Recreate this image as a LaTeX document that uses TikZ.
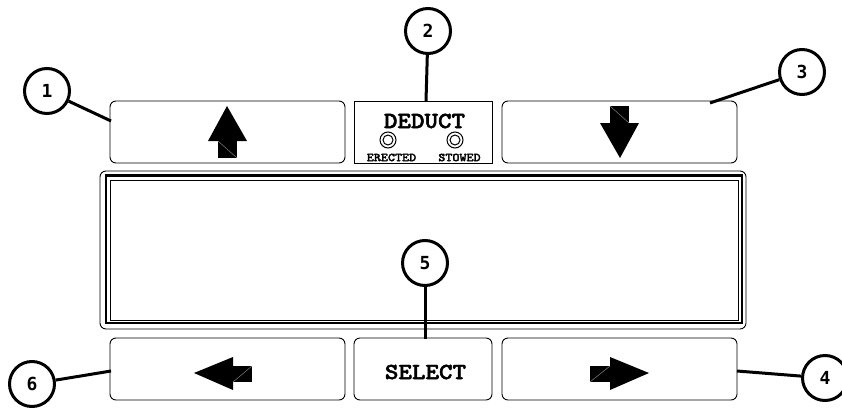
\documentclass[tikz,border=0pt]{standalone}
\usepackage{fontspec}
\usepackage{graphicx}
\newfontfamily\numfnt{DejaVu Sans Mono}
\newfontfamily\courbold{lmmonolt10-bold.otf}[FakeBold=2]
\newcommand{\wideT}[1]{\scalebox{1.12}[1]{#1}}
\begin{document}
\begin{tikzpicture}[x=1pt,y=-1pt,
  button/.style={draw, line width=0.9pt, rounded corners=6pt, inner sep=0pt,
    minimum width=235pt, minimum height=62pt},
  smallbutton/.style={button, minimum width=138pt},
  callout/.style={circle, draw, line width=3pt, minimum size=45pt, inner sep=0pt,
    font=\numfnt\bfseries\fontsize{18}{18}\selectfont},
  leader/.style={line width=3pt},
  arrowfill/.style={fill=black},
  seam/.style={draw=gray, line width=0.5pt},
  led/.style={circle, draw, line width=1pt, minimum size=16pt, inner sep=0pt},
  ledin/.style={circle, draw, line width=1pt, minimum size=10pt, inner sep=0pt},
  bigtxt/.style={font=\courbold\fontsize{23}{23}\selectfont, inner sep=0pt},
  smalltxt/.style={font=\courbold\fontsize{12}{12}\selectfont, inner sep=0pt},
  ]
\useasboundingbox (0,0) rectangle (842,409);
% top buttons
\node[button] (b1) at (227.5,132) {};
\node[draw, line width=0.9pt, inner sep=0pt, minimum width=138pt, minimum height=62pt] (ded) at (423,132) {};
\node[button] (b3) at (619.5,132) {};
% bottom buttons
\node[button] (b6) at (227.5,369) {};
\node[smallbutton] (sel) at (423,369) {};
\node[bigtxt] (seltext) at (425.5,372) {\wideT{SELECT}};
\node[button] (b4) at (619.5,369) {};
% display
\node[draw, line width=0.9pt, rounded corners=6pt, inner sep=0pt, minimum width=646pt, minimum height=158pt] (disp) at (423,250) {};
\draw[line width=2.5pt] (106,175.5) rectangle (742,323);
\draw[line width=0.9pt] (110.5,180) rectangle (738.5,320.5);
% deduct contents
\node[bigtxt] (dtext) at (424.5,121) {\wideT{DEDUCT}};
\node[led] (led1) at (388,140) {};
\node[ledin] (led1i) at (388,140) {};
\node[led] (led2) at (455,140) {};
\node[ledin] (led2i) at (455,140) {};
\node[smalltxt] (erc) at (391.5,157.5) {\wideT{ERECTED}};
\node[smalltxt] (stw) at (459.5,157.5) {\wideT{STOWED}};
% arrows
% up
\fill[arrowfill] (227,106) -- (247,141) -- (208,141) -- cycle;
\fill[arrowfill] (218,141) rectangle (237,158);
\draw[seam] (218,141) -- (237,158);
% down
\fill[arrowfill] (620,158) -- (639,123) -- (600,123) -- cycle;
\fill[arrowfill] (610,106) rectangle (629,123);
\draw[seam] (610,106) -- (629,123);
% left
\fill[arrowfill] (194,373) -- (233,357) -- (233,390) -- cycle;
\fill[arrowfill] (233,366) rectangle (252,382);
\draw[seam] (233,382) -- (252,366);
% right
\fill[arrowfill] (649,373) -- (610,357) -- (610,390) -- cycle;
\fill[arrowfill] (590,366) rectangle (610,382);
\draw[seam] (590,382) -- (610,366);
% callouts
\node[callout] (c1) at (47,91) {1};
\node[callout] (c2) at (428,31) {2};
\node[callout] (c3) at (802,72) {3};
\node[callout] (c4) at (825,378) {4};
\node[callout] (c5) at (425,263) {5};
\node[callout] (c6) at (32,384) {6};
\coordinate (p1) at (111,121);
\coordinate (p2) at (426,101);
\coordinate (p3) at (710,103);
\coordinate (p4) at (737,371);
\coordinate (p5) at (425,339);
\coordinate (p6) at (111,371);
\draw[leader] (c1) -- (p1);
\draw[leader] (c2) -- (p2);
\draw[leader] (c3) -- (p3);
\draw[leader] (c4) -- (p4);
\draw[leader] (c5) -- (p5);
\draw[leader] (c6) -- (p6);
\end{tikzpicture}
\end{document}
